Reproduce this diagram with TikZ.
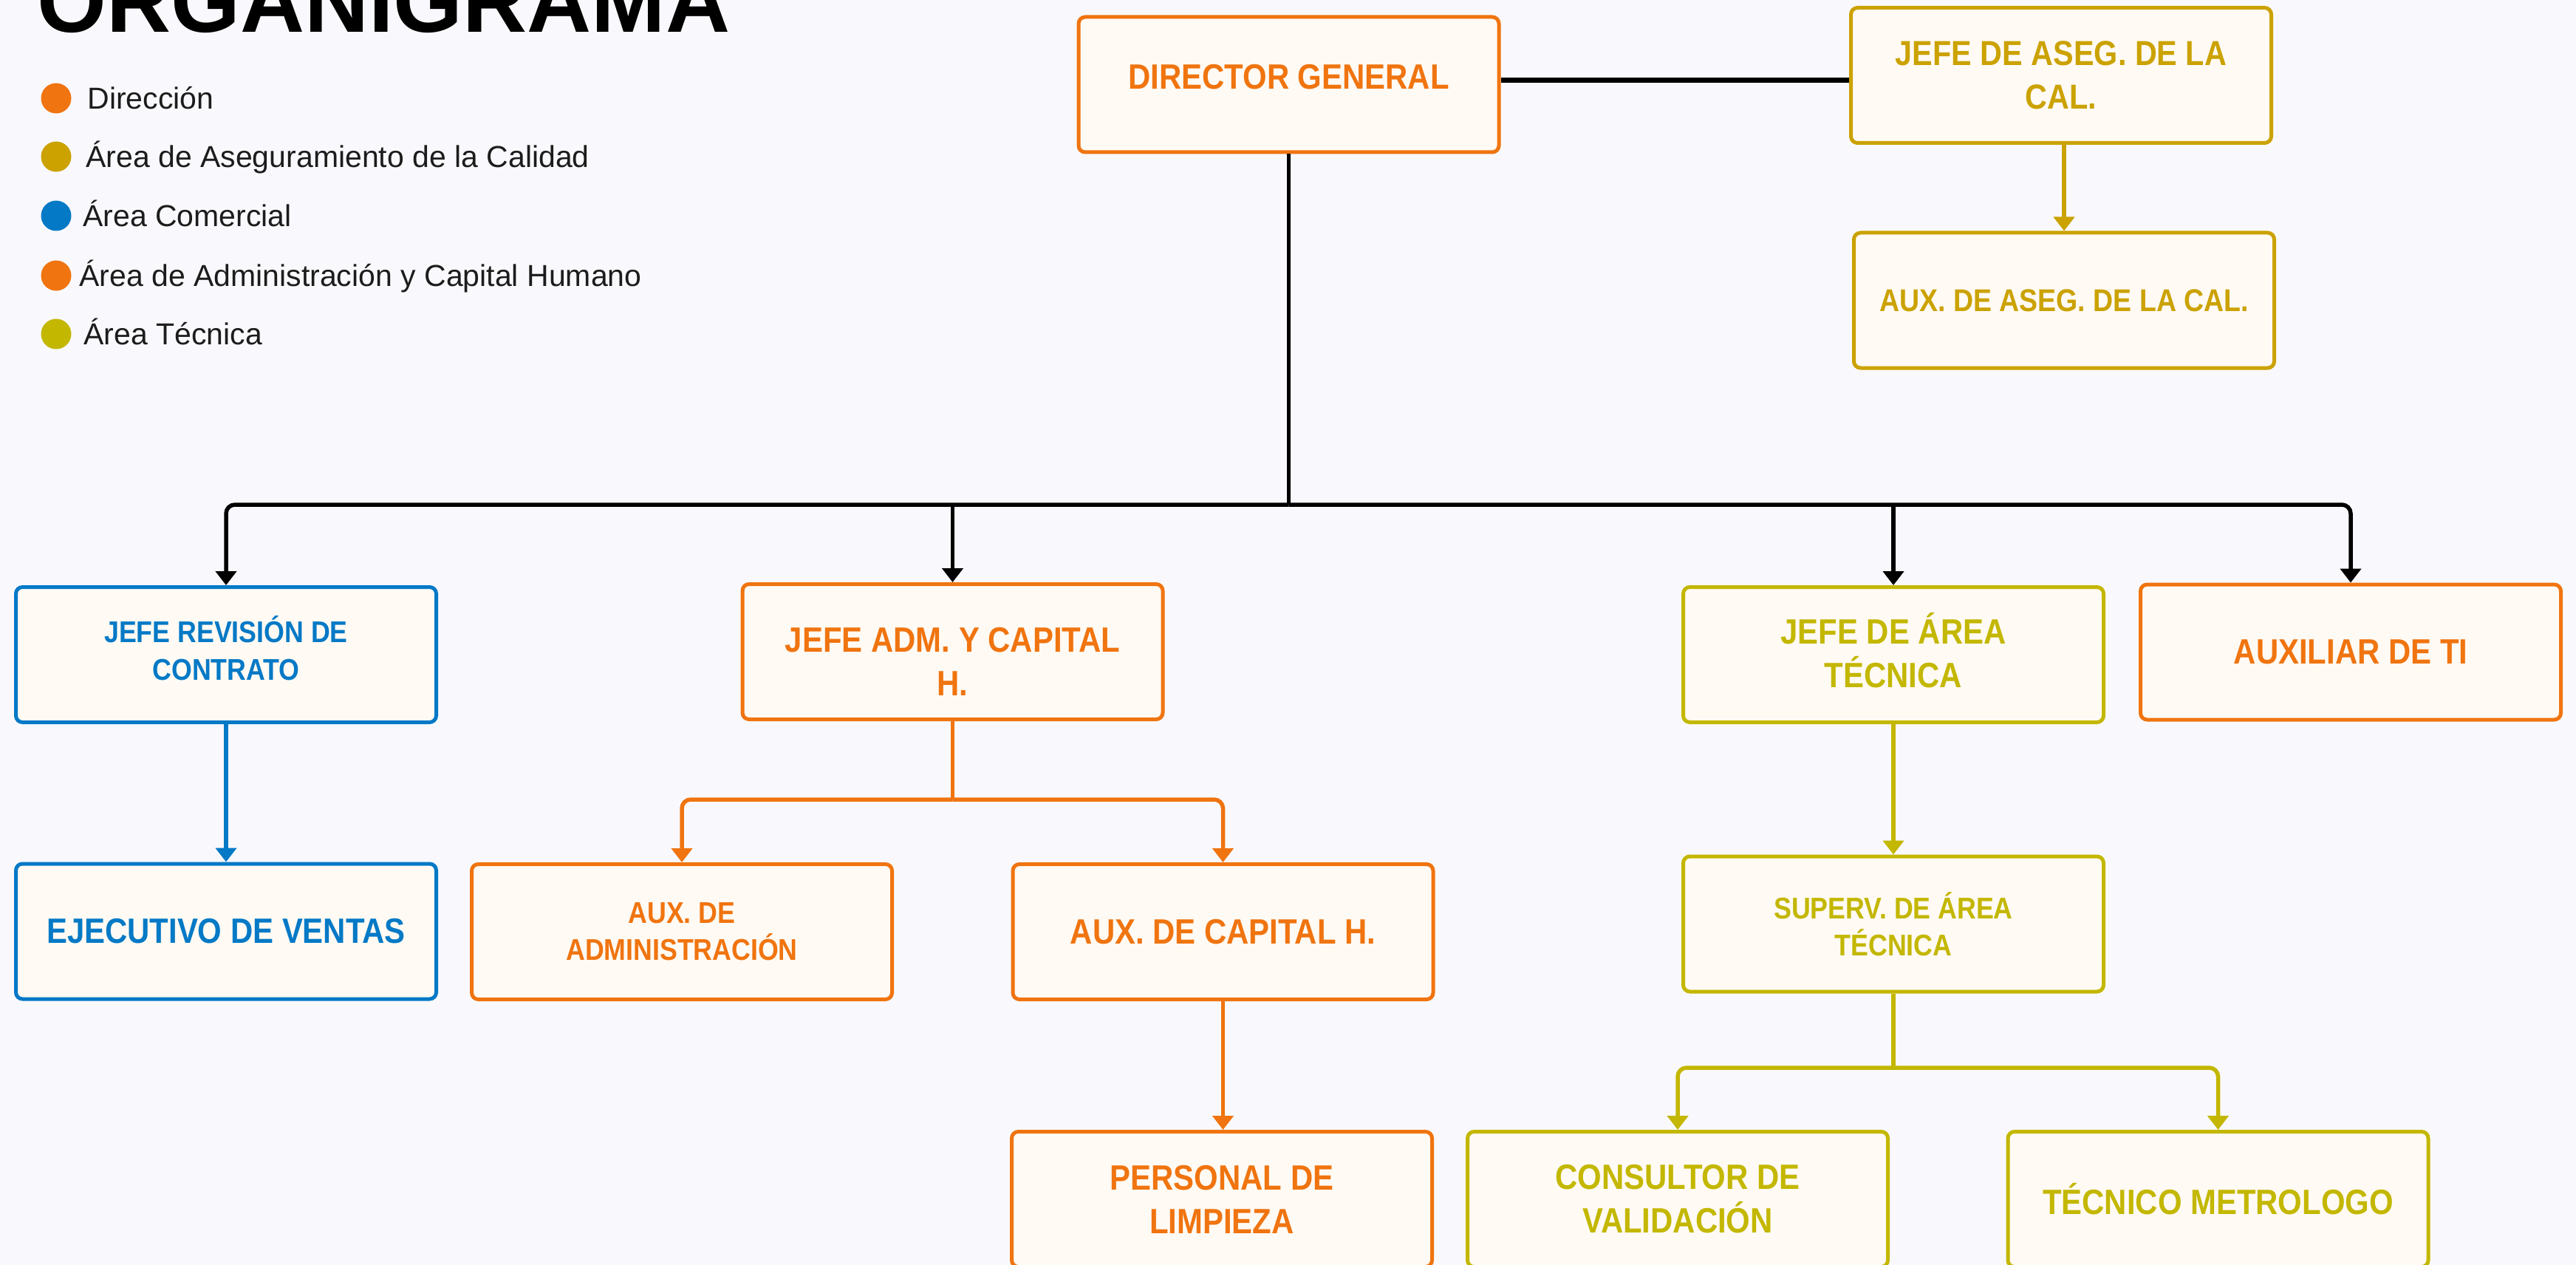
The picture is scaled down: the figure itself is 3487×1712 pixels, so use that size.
\documentclass[tikz,border=0pt]{standalone}
\usepackage{fontspec}
\setmainfont{Liberation Sans}
\newfontfamily\boxfont{Liberation Sans}[FakeStretch=0.88]
\usetikzlibrary{arrows.meta}
\definecolor{bgc}{HTML}{F9F9FD}
\definecolor{boxfill}{HTML}{FFFAF4}
\definecolor{cor}{HTML}{F0740F}
\definecolor{cgold}{HTML}{CBA200}
\definecolor{cblue}{HTML}{0479C6}
\definecolor{colive}{HTML}{C3B700}
\definecolor{ink}{HTML}{1C1C1C}
\newcommand{\twolines}[4]{\raisebox{0pt}[#1][#2]{\begin{tabular}[t]{@{}c@{}}#3\\#4\end{tabular}}}
\begin{document}
\begin{tikzpicture}[x=0.5pt,y=-0.5pt,
  orgbox/.style={draw=#1, fill=boxfill, text=#1, line width=2.5pt, rounded corners=4.5pt,
    minimum width=284.5pt, minimum height=91.5pt, inner sep=0pt, align=center,
    font={\boxfont\bfseries\fontsize{23.8pt}{29.5pt}\selectfont}},
  smalltxt/.style={font={\boxfont\bfseries\fontsize{20.3pt}{25.2pt}\selectfont}},
  midtxt/.style={font={\boxfont\bfseries\fontsize{21.3pt}{26.5pt}\selectfont}},
  conn/.style={draw=#1, line width=2.75pt},
  tipped/.style={-{Triangle[width=14pt,length=9.5pt]}},
  ldot/.style={circle, fill=#1, minimum size=20.5pt, inner sep=0pt},
  ltext/.style={anchor=base west, inner sep=0pt, text=ink, font={\fontsize{20.5pt}{24pt}\selectfont}}
]
\fill[bgc] (0,0) rectangle (3487,1712);
\useasboundingbox (0,0) rectangle (3487,1712);

% title
\node[anchor=base west, inner sep=0pt, text=black,
  font={\bfseries\fontsize{60.3pt}{62pt}\selectfont}] (title) at (50,44) {ORGANIGRAMA};

% legend
\node[ldot=cor] (d1) at (76,133) {};
\node[ltext] (t1) at (118,147.5) {Dirección};
\node[ldot=cgold] (d2) at (76,212) {};
\node[ltext] (t2) at (116,226.5) {Área de Aseguramiento de la Calidad};
\node[ldot=cblue] (d3) at (76,292) {};
\node[ltext] (t3) at (112,306.5) {Área Comercial};
\node[ldot=cor] (d4) at (76,373) {};
\node[ltext] (t4) at (107,387.5) {Área de Administración y Capital Humano};
\node[ldot=colive] (d5) at (76,452) {};
\node[ltext] (t5) at (113,466.5) {Área Técnica};

% boxes
\node[orgbox=cor, text depth=11pt] (DG) at (1744.5,114.5) {DIRECTOR GENERAL};
\node[orgbox=cgold, font={\boxfont\bfseries\fontsize{23.5pt}{29.5pt}\selectfont}] (JASEG) at (2790,102) {JEFE DE ASEG. DE LA\\CAL.};
\node[orgbox=cgold, midtxt] (AUXASEG) at (2794,406.5) {AUX. DE ASEG. DE LA CAL.};

\node[orgbox=cblue, smalltxt] (JREV) at (306,886) {\twolines{20pt}{36.2pt}{JEFE REVISIÓN DE}{CONTRATO}};
\node[orgbox=cor] (JADM) at (1289.5,882) {\twolines{30pt}{30pt}{JEFE ADM. Y CAPITAL}{H.}};
\node[orgbox=colive] (JAREA) at (2563,886) {\twolines{22.5pt}{37.5pt}{JEFE DE ÁREA}{TÉCNICA}};
\node[orgbox=cor] (AUXTI) at (3182,882.5) {AUXILIAR DE TI};

\node[orgbox=cblue] (EJEC) at (306,1260.5) {EJECUTIVO DE VENTAS};
\node[orgbox=cor, smalltxt] (AUXADM) at (923,1261) {AUX. DE\\ADMINISTRACIÓN};
\node[orgbox=cor] (AUXCAP) at (1655.5,1261) {AUX. DE CAPITAL H.};
\node[orgbox=colive, smalltxt] (SUPERV) at (2563,1250.5) {SUPERV. DE ÁREA\\TÉCNICA};

\node[orgbox=cor] (PERS) at (1654,1623) {PERSONAL DE\\LIMPIEZA};
\node[orgbox=colive] (CONS) at (2271,1623) {CONSULTOR DE\\VALIDACIÓN};
\node[orgbox=colive] (TECM) at (3002.5,1623) {TÉCNICO METROLOGO};

% connectors
\coordinate (hy) at (0,108.5);
\coordinate (busy) at (0,683);
\coordinate (ory) at (0,1082);
\coordinate (oly) at (0,1445);

\draw[conn=black, line width=3.25pt] (DG.east |- hy) -- (JASEG.west |- hy);
\draw[conn=cgold, tipped] (JASEG.south -| AUXASEG.north) -- (AUXASEG.north);

\draw[conn=black] (DG.south) -- (DG.south |- busy);
\draw[conn=black, tipped, rounded corners=6pt] (DG.south |- busy) -| (JREV.north);
\draw[conn=black, tipped, rounded corners=6pt] (DG.south |- busy) -| (AUXTI.north);
\draw[conn=black, tipped] (JADM.north |- busy) -- (JADM.north);
\draw[conn=black, tipped] (JAREA.north |- busy) -- (JAREA.north);

\draw[conn=cblue, tipped] (JREV.south) -- (EJEC.north);

\draw[conn=cor] (JADM.south) -- (JADM.south |- ory);
\draw[conn=cor, tipped, rounded corners=6pt] (JADM.south |- ory) -| (AUXADM.north);
\draw[conn=cor, tipped, rounded corners=6pt] (JADM.south |- ory) -| (AUXCAP.north);
\draw[conn=cor, tipped] (AUXCAP.south) -- (AUXCAP.south |- PERS.north);

\draw[conn=colive, tipped] (JAREA.south) -- (SUPERV.north);
\draw[conn=colive] (SUPERV.south) -- (SUPERV.south |- oly);
\draw[conn=colive, tipped, rounded corners=6pt] (SUPERV.south |- oly) -| (CONS.north);
\draw[conn=colive, tipped, rounded corners=6pt] (SUPERV.south |- oly) -| (TECM.north);
\end{tikzpicture}
\end{document}
